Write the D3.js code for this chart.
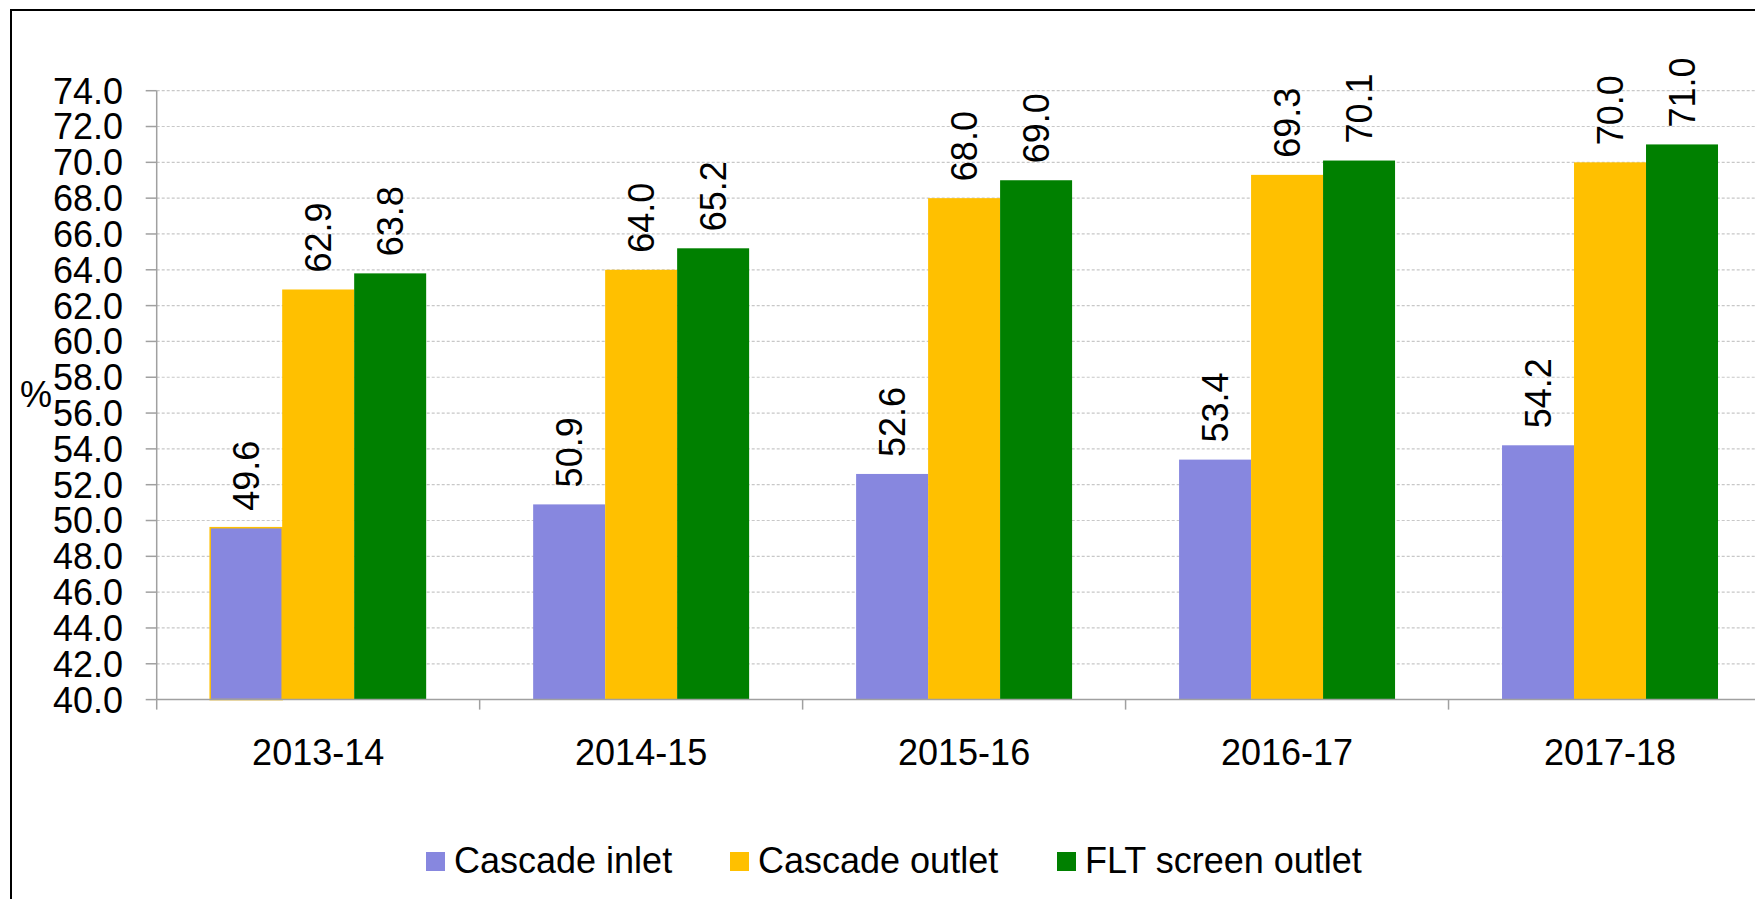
<!DOCTYPE html>
<html>
<head>
<meta charset="utf-8">
<script src="https://cdn.jsdelivr.net/npm/d3@7"></script>
<style>
  body { margin: 0; background: #fff; }
  svg { display: block; font-family: Arial, "Liberation Sans", sans-serif; }
</style>
</head>
<body>
<svg id="chart"></svg>
<script>
// data
var years = ["2013-14", "2014-15", "2015-16", "2016-17", "2017-18"];
var seriesNames = ["Cascade inlet", "Cascade outlet", "FLT screen outlet"];
var cascadeInlet = [49.6, 50.9, 52.6, 53.4, 54.2];
var cascadeOutlet = [62.9, 64.0, 68.0, 69.3, 70.0];
var fltOutlet = [63.8, 65.2, 69.0, 70.1, 71.0];
var yTicks = [40, 42, 44, 46, 48, 50, 52, 54, 56, 58, 60, 62, 64, 66, 68, 70, 72, 74];
var colors = ["#8787DF", "#FFC000", "#008000"];

var seriesValues = [cascadeInlet, cascadeOutlet, fltOutlet];

//layout
var W = 1755, H = 899;
let margin = {top: 90.7, left: 156.7, bottom: 699.6, right: 1771.5};
let svg = d3.select("#chart").attr("width", W).attr("height", H);

// frame
svg.append("rect")
    .attr("x", 11).attr("y", 10)
    .attr("width", 1900).attr("height", 1000)
    .attr("fill", "none").attr("stroke", "#000").attr("stroke-width", 2);

let y = d3.scaleLinear().domain([40, 74]).range([margin.bottom, margin.top]);
let x0 = d3.scaleBand().domain(years).range([margin.left, margin.right]);
let x1 = d3.scaleBand().domain(seriesNames).range([0, x0.bandwidth()]).paddingOuter(0.743);

// gridlines
svg.selectAll(".grid")
    .data(yTicks.filter(function (d) { return d > 40; }))
    .enter()
    .append("line")
    .attr("class", "grid")
    .attr("x1", margin.left).attr("x2", W)
    .attr("y1", function (d) { return y(d); })
    .attr("y2", function (d) { return y(d); })
    .attr("stroke", "#C8C8C8")
    .attr("stroke-width", 1.2)
    .attr("stroke-dasharray", "3,2");

// bars
var rows = [];
years.forEach(function (yr, i) {
    seriesNames.forEach(function (s, j) {
        rows.push({year: yr, series: s, value: seriesValues[j][i], k: j});
    });
});

svg.selectAll(".bar")
    .data(rows)
    .enter()
    .append("rect")
    .attr("class", "bar")
    .attr("x", function (d) { return x0(d.year) + x1(d.series); })
    .attr("width", x1.bandwidth())
    .attr("y", function (d) { return y(d.value); })
    .attr("height", function (d) { return y(40) - y(d.value); })
    .attr("fill", function (d) { return colors[d.k]; })
    .attr("stroke", function (d) { return (d.year == "2013-14" && d.k == 0) ? "#FFC000" : "none"; })
    .attr("stroke-width", 1.5);

// value labels
svg.selectAll(".val")
    .data(rows)
    .enter()
    .append("text")
    .attr("class", "val")
    .attr("transform", function (d) {
        var cx = x0(d.year) + x1(d.series) + x1.bandwidth() / 2;
        return "translate(" + cx + "," + (y(d.value) - 17) + ") rotate(-90)";
    })
    .attr("dy", "0.35em")
    .attr("font-size", 36)
    .attr("fill", "#000")
    .text(function (d) { return d3.format(".1f")(d.value); });

// y axis
var yAxis = svg.append("g");
yAxis.append("line")
    .attr("x1", margin.left).attr("x2", margin.left)
    .attr("y1", y(74)).attr("y2", y(40))
    .attr("stroke", "#A0A0A0").attr("stroke-width", 1.5);
yAxis.selectAll(".ytick")
    .data(yTicks)
    .enter()
    .append("line")
    .attr("x1", margin.left - 11).attr("x2", margin.left)
    .attr("y1", function (d) { return y(d); })
    .attr("y2", function (d) { return y(d); })
    .attr("stroke", "#A0A0A0").attr("stroke-width", 1.5);
yAxis.selectAll(".ylab")
    .data(yTicks)
    .enter()
    .append("text")
    .attr("x", 123)
    .attr("y", function (d) { return y(d); })
    .attr("dy", "0.36em")
    .attr("text-anchor", "end")
    .attr("font-size", 36)
    .text(function (d) { return d3.format(".1f")(d); });

svg.append("text")
    .attr("x", 36).attr("y", 394)
    .attr("dy", "0.35em")
    .attr("text-anchor", "middle")
    .attr("font-size", 36)
    .text("%");

// x axis
svg.append("line")
    .attr("x1", margin.left).attr("x2", W)
    .attr("y1", y(40)).attr("y2", y(40))
    .attr("stroke", "#A0A0A0").attr("stroke-width", 1.5);
svg.selectAll(".xtick")
    .data(years.concat(["end"]))
    .enter()
    .append("line")
    .attr("x1", function (d, i) { return margin.left + i * x0.step(); })
    .attr("x2", function (d, i) { return margin.left + i * x0.step(); })
    .attr("y1", y(40)).attr("y2", y(40) + 10)
    .attr("stroke", "#A0A0A0").attr("stroke-width", 1.5);
svg.selectAll(".xlab")
    .data(years)
    .enter()
    .append("text")
    .attr("x", function (d) { return x0(d) + x0.bandwidth() / 2; })
    .attr("y", 765)
    .attr("text-anchor", "middle")
    .attr("font-size", 36)
    .text(function (d) { return d; });

// legend
var legendX = [426, 730, 1057];
var lg = svg.selectAll(".legend")
    .data(seriesNames)
    .enter()
    .append("g")
    .attr("class", "legend")
    .attr("transform", function (d, i) { return "translate(" + legendX[i] + ",852)"; });
lg.append("rect")
    .attr("width", 19).attr("height", 19)
    .attr("fill", function (d, i) { return colors[i]; });
lg.append("text")
    .attr("x", 28).attr("y", 21)
    .attr("font-size", 36)
    .text(function (d) { return d; });
</script>
</body>
</html>
